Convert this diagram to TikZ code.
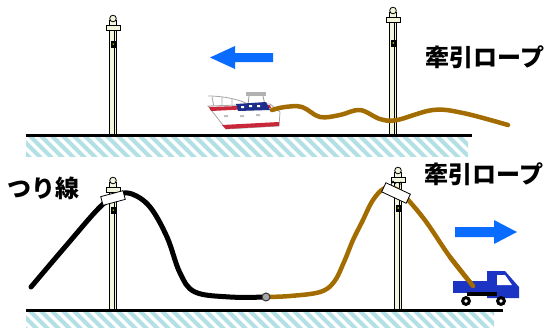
\documentclass[tikz,border=0pt]{standalone}
\usepackage{fontspec}
\setmainfont{Noto Sans CJK JP}
\begin{document}
\definecolor{ropebrown}{HTML}{A36C00}
\definecolor{arrowblue}{HTML}{0A6CFF}
\definecolor{truckblue}{HTML}{1C34C4}
\definecolor{hatchcyan}{HTML}{B2E0E4}
\definecolor{polefill}{HTML}{F3F6DC}
\definecolor{hullred}{HTML}{C8283A}
\definecolor{cabinblue}{HTML}{1E2C8C}
\tikzset{
  pole/.style={draw=black, line width=0.8pt, fill=polefill},
  rope/.style={draw=ropebrown, line width=4.5pt, line cap=round, line join=round},
  wire/.style={draw=black, line width=5pt, line cap=round, line join=round},
  ground/.style={draw=black, line width=3pt},
  hatchline/.style={draw=hatchcyan, line width=4pt},
  tag/.style={font=\bfseries\fontsize{24}{24}\selectfont, inner sep=0pt},
  clampbox/.style={draw=black, fill=white, line width=0.8pt, inner sep=0pt},
  bluearrow/.style={fill=arrowblue, draw=none},
}
% a concrete pole: x, y of top, y of foot, offset of the small box
\newcommand\concretepole[4]{%
  \draw[pole] ({#1-3.5},{#2+5}) rectangle ({#1+3.5},#3);
  \draw[black, line width=0.5pt] ({#1+1.2},{#2+14}) -- ({#1+1.2},#3);
  \draw[pole] (#1,{#2+3.5}) circle (3.3);
  \draw[pole] ({#1-6.5},{#2+10}) rectangle ({#1+7},{#2+15});
  \fill[black] ({#1-2},{#2+#4}) rectangle ({#1+2.5},{#2+#4+7});
  \fill[yellow!80!green] ({#1+0.2},{#2+#4+3}) circle (0.8);
}
\begin{tikzpicture}[x=1pt, y=-1pt]
\useasboundingbox (0,0) rectangle (551,327);

% ---------- upper panel ----------
\begin{scope}
  \clip (26,137) rectangle (468,156);
  \foreach \x in {-20,-9,...,480} \draw[hatchline] (\x,130) -- ({\x+30},160);
\end{scope}
\draw[ground] (26,135) -- (472,135);

\concretepole{113}{15}{134}{26}
\concretepole{393}{7}{134}{33}

% boat
\coordinate (boat) at (272,110);
\begin{scope}
  % railing at the bow
  \draw[gray!70, line width=0.8pt] (208,96) .. controls (225,96) and (240,100) .. (248,104);
  \draw[gray!70, line width=0.8pt] (212,97) -- (214,107) (222,97) -- (222,107) (232,99) -- (232,106);
  % cabin roof and posts
  \fill[gray!60] (246,92) rectangle (266,96);
  \draw[gray!80, line width=0.8pt] (249,96) -- (248,105) (263,96) -- (265,105);
  % hull
  \draw[gray!70, fill=white, line width=0.8pt] (208,106) -- (270,104) -- (280,112) -- (279,126) -- (226,129) -- cycle;
  \fill[hullred] (209,107) -- (270,105) -- (271,108) -- (211,111) -- cycle;
  \fill[hullred] (222,125) -- (279,122) -- (279,126) -- (226,129) -- cycle;
  % cabin windows
  \fill[cabinblue] (236,104) -- (266,102) -- (270,110) -- (238,111) -- cycle;
  \fill[white] (241,106) rectangle (244,108) (249,105) rectangle (252,107) (257,105) rectangle (260,107);
  \fill[gray!50] (224,115) rectangle (228,117) (240,115) rectangle (244,117) (256,114) rectangle (260,116);
\end{scope}

% towing rope, upper panel
\draw[rope] plot[smooth, tension=0.6] coordinates {(boat) (285,107) (302,107) (320,117) (340,115) (360,110) (380,119) (397,120) (433,110) (463,113) (508,125)};

% arrow to the left
\fill[bluearrow] (210,57.5) -- (235,46) -- (235,53) -- (273,53) -- (273,62) -- (235,62) -- (235,69) -- cycle;

\node[tag] (ropeA) at (485,57) {牽引ロープ};

% ---------- lower panel ----------
\begin{scope}
  \clip (26,312) rectangle (494,327);
  \foreach \x in {-20,-9,...,520} \draw[hatchline] (\x,305) -- ({\x+30},335);
\end{scope}
\draw[ground] (26,310) -- (503,310);

\concretepole{113}{177}{309}{30}
\concretepole{398}{167}{309}{38}

\coordinate (wireend) at (31,287);
\coordinate (splice) at (266,297);
\coordinate (truck) at (473,286);

% suspension wire (black)
\draw[wire] plot[smooth, tension=0.6] coordinates {(wireend) (65,247) (100,207) (118,195) (132,194) (150,207) (167,237) (180,273) (195,292) (230,297) (splice)};

% towing rope (brown)
\draw[rope] plot[smooth, tension=0.6] coordinates {(splice) (290,296) (320,292) (334,282) (344,262) (353,240) (362,222) (373,200) (385,188) (398,190) (410,202) (427,223) (450,257) (truck)};

% splice joint
\draw[black!80, fill=gray!70, line width=1pt] (splice) circle (4);

% clamps on the pole tops
\node[clampbox, rotate=15, minimum width=23pt, minimum height=9pt] (clampL) at (113,198) {};
\node[clampbox, rotate=-25, minimum width=27pt, minimum height=10pt] (clampR) at (396,193) {};
\draw[black, line width=0.7pt] (391,185) -- (393,181) -- (396,184) (398,183) -- (401,182) -- (401,185);

% truck
\begin{scope}
  \fill[truckblue] (453,281) rectangle (489,293);
  \fill[truckblue] (487,271) -- (505,271) -- (519,287) -- (519,298) -- (487,298) -- cycle;
  \fill[white] (497,275) -- (505,275) -- (512,285) -- (497,285) -- cycle;
  \fill[black] (467,292) rectangle (497,296);
  \fill[black] (466,301) circle (5);
  \fill[white] (466,301) circle (1.8);
  \fill[black] (501,301) circle (5);
  \fill[white] (501,301) circle (1.8);
\end{scope}
\draw[rope] (450,257) -- (truck);

% arrow to the right
\fill[bluearrow] (517,232) -- (494,220) -- (494,227) -- (455,227) -- (455,237) -- (494,237) -- (494,244) -- cycle;

\node[tag] (ropeB) at (484,174) {牽引ロープ};
\node[tag] (hanger) at (44,188) {つり線};
\end{tikzpicture}
\end{document}
